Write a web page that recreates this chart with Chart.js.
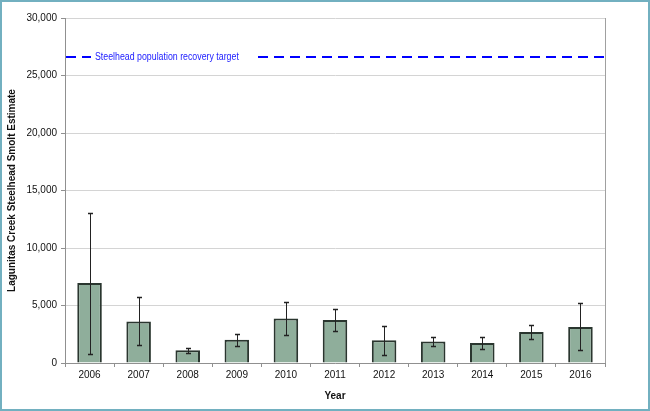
<!DOCTYPE html>
<html>
<head>
<meta charset="utf-8">
<script src="https://cdn.jsdelivr.net/npm/chart.js@4.4.1/dist/chart.umd.min.js"></script>
<style>
  html, body { margin: 0; padding: 0; background: #fff; }
  #wrap { position: relative; width: 650px; height: 411px; }
</style>
</head>
<body>
<div id="wrap"><canvas id="smoltChart"></canvas></div>
<script>
// data
const years = ["2006", "2007", "2008", "2009", "2010", "2011", "2012", "2013", "2014", "2015", "2016"];
const smoltEstimate = [6950, 3600, 1100, 2030, 3860, 3740, 1970, 1880, 1740, 2700, 3130];
const errorHigh = [13070, 5710, 1330, 2550, 5270, 4670, 3250, 2230, 2230, 3330, 5190];
const errorLow = [810, 1570, 870, 1480, 2430, 2810, 730, 1480, 1190, 2060, 1100];
const recoveryTarget = 26600;
const targetLabel = "Steelhead population recovery target";

// error bars, target line and frame
const extras = {
  id: "extras",
  afterDatasetsDraw(chart) {
    const ctx = chart.ctx;
    const x = chart.scales.x, y = chart.scales.y;
    const area = chart.chartArea;
    ctx.save();
    ctx.strokeStyle = "#222";
    ctx.lineWidth = 1;
    years.forEach((yr, i) => {
      const cx = Math.round(x.getPixelForValue(i)) + 0.5;
      const hi = Math.round(y.getPixelForValue(errorHigh[i])) + 0.5;
      const lo = Math.round(y.getPixelForValue(errorLow[i])) + 0.5;
      ctx.beginPath();
      ctx.moveTo(cx, hi); ctx.lineTo(cx, lo);
      ctx.stroke();
      ctx.lineWidth = 1.5;
      ctx.beginPath();
      ctx.moveTo(cx - 2.5, hi); ctx.lineTo(cx + 2.5, hi);
      ctx.moveTo(cx - 2.5, lo); ctx.lineTo(cx + 2.5, lo);
      ctx.stroke();
      ctx.lineWidth = 1;
    });

    // recovery target dashed line
    const ty = Math.round(y.getPixelForValue(recoveryTarget));
    ctx.strokeStyle = "#0000ff";
    ctx.lineWidth = 2;
    ctx.setLineDash([10, 6]);
    ctx.beginPath();
    ctx.moveTo(area.left + 1, ty);
    ctx.lineTo(area.right, ty);
    ctx.stroke();
    ctx.setLineDash([]);
    ctx.fillStyle = "#fff";
    ctx.fillRect(area.left + 26, ty - 6, 162, 12);
    ctx.fillStyle = "#1a1aff";
    ctx.font = "10px 'Liberation Sans', sans-serif";
    ctx.textBaseline = "middle";
    ctx.translate(area.left + 30, ty);
    ctx.scale(0.88, 1);
    ctx.fillText(targetLabel, 0, 0);
    ctx.setTransform(1, 0, 0, 1, 0, 0);

    // right edge of plot
    ctx.strokeStyle = "#a0a0a0";
    ctx.lineWidth = 1;
    ctx.beginPath();
    ctx.moveTo(area.right + 0.5, area.top);
    ctx.lineTo(area.right + 0.5, area.bottom);
    ctx.stroke();

    // outer frame
    ctx.strokeStyle = "#72b0c0";
    ctx.lineWidth = 2;
    ctx.strokeRect(1, 1, chart.width - 2, chart.height - 2);
    ctx.restore();
  }
};

const ctx = document.getElementById("smoltChart").getContext("2d");
const myChart = new Chart(ctx, {
  type: "bar",
  data: {
    labels: years,
    datasets: [{
      data: smoltEstimate,
      backgroundColor: "#8fae9b",
      borderColor: "#2a362f",
      borderWidth: 2,
      barPercentage: 0.5,
      categoryPercentage: 1.0
    }]
  },
  options: {
    responsive: true,
    maintainAspectRatio: false,
    animation: false,
    devicePixelRatio: 1,
    layout: { padding: { left: 0, right: 45, top: 18, bottom: 0 } },
    plugins: {
      legend: { display: false },
      tooltip: { enabled: false }
    },
    scales: {
      x: {
        afterFit(scale) { scale.height = 48; },
        grid: { offset: true, drawOnChartArea: false, drawTicks: true, tickLength: 4, color: "#909090" },
        border: { color: "#909090" },
        ticks: { color: "#111", font: { family: "'Liberation Sans', sans-serif", size: 10 }, padding: 2 },
        title: { display: true, text: "Year", color: "#111", font: { family: "'Liberation Sans', sans-serif", size: 10, weight: "bold" }, padding: { top: 4, bottom: 9 } }
      },
      y: {
        min: 0,
        max: 30000,
        afterFit(scale) { scale.width = 65; },
        grid: { color: "#d4d4d4", tickColor: "#909090", tickLength: 4 },
        border: { color: "#909090" },
        ticks: {
          stepSize: 5000,
          color: "#111",
          padding: 4,
          font: { family: "'Liberation Sans', sans-serif", size: 10 },
          callback: v => v.toLocaleString("en-US")
        },
        title: { display: true, text: "Lagunitas Creek Steelhead Smolt Estimate", color: "#111", font: { family: "'Liberation Sans', sans-serif", size: 10, weight: "bold" }, padding: { top: 6, bottom: 0 } }
      }
    }
  },
  plugins: [extras]
});
</script>
</body>
</html>
